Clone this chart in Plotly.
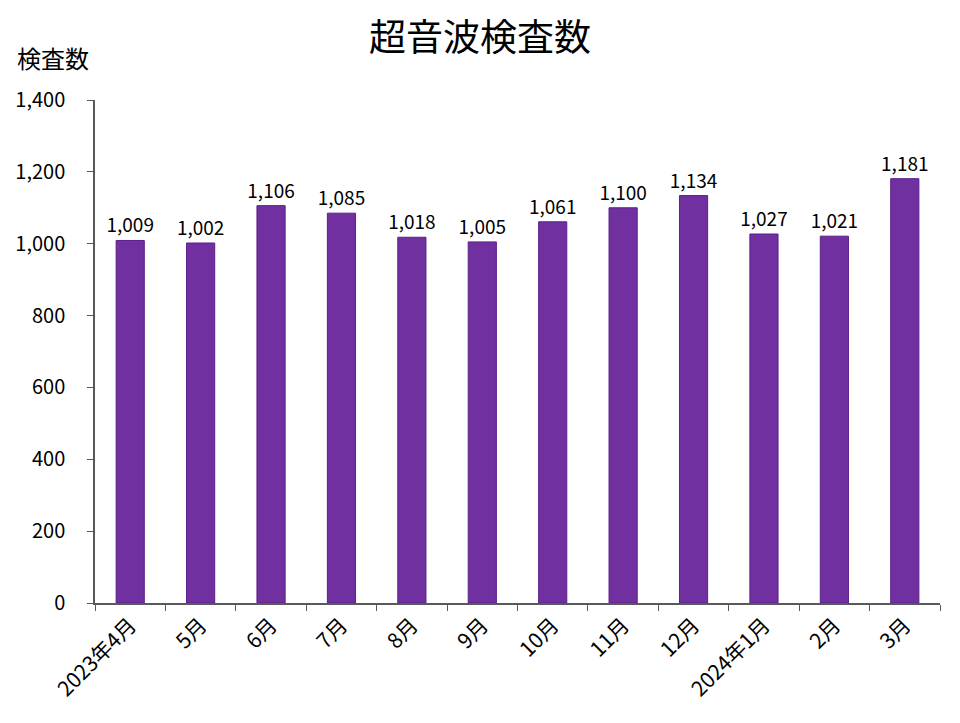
import plotly.graph_objects as go

months = ["2023年4月", "5月", "6月", "7月", "8月", "9月", "10月", "11月", "12月", "2024年1月", "2月", "3月"]
counts = [1009, 1002, 1106, 1085, 1018, 1005, 1061, 1100, 1134, 1027, 1021, 1181]
y_ticks = [0, 200, 400, 600, 800, 1000, 1200, 1400]

font_jp = "Noto Sans CJK JP, Noto Sans, sans-serif"

fig = go.Figure(go.Bar(
    x=months, y=counts,
    marker=dict(color="#7030A0", line=dict(color="#5B1E8A", width=1)),
    width=0.4,
    text=[f"{v:,}" for v in counts], textposition="outside",
    textfont=dict(size=19, color="black", family=font_jp),
    constraintext="none",
    cliponaxis=False,
))

# page body has an 8px margin, so shift everything up/left by 8px
fig.update_layout(
    width=960, height=723,
    margin=dict(l=87, r=28, t=92, b=128),
    paper_bgcolor="white", plot_bgcolor="white",
    font=dict(family=font_jp, color="black"),
    title=dict(text="超音波検査数", x=0.4917, xanchor="center", y=0.958, yanchor="middle",
               font=dict(size=37, color="black")),
    showlegend=False,
)
fig.update_xaxes(
    showline=True, linecolor="#595959", linewidth=1.5,
    ticks="outside", tickson="boundaries", ticklen=6, tickcolor="#595959",
    tickangle=-45, tickfont=dict(size=21), showgrid=False, automargin=False,
)
fig.update_yaxes(
    range=[0, 1400], tickvals=y_ticks, tickformat=",",
    showline=True, linecolor="#595959", linewidth=1.5,
    ticks="outside", ticklen=6, tickcolor="#595959",
    tickfont=dict(size=20), showgrid=False, zeroline=False,
    ticklabelstandoff=18, automargin=False,
)
fig.add_annotation(text="検査数", xref="paper", yref="paper", x=-0.095, y=1.0835,
                   xanchor="left", yanchor="middle", showarrow=False, font=dict(size=24))

fig.write_html("out.html")
